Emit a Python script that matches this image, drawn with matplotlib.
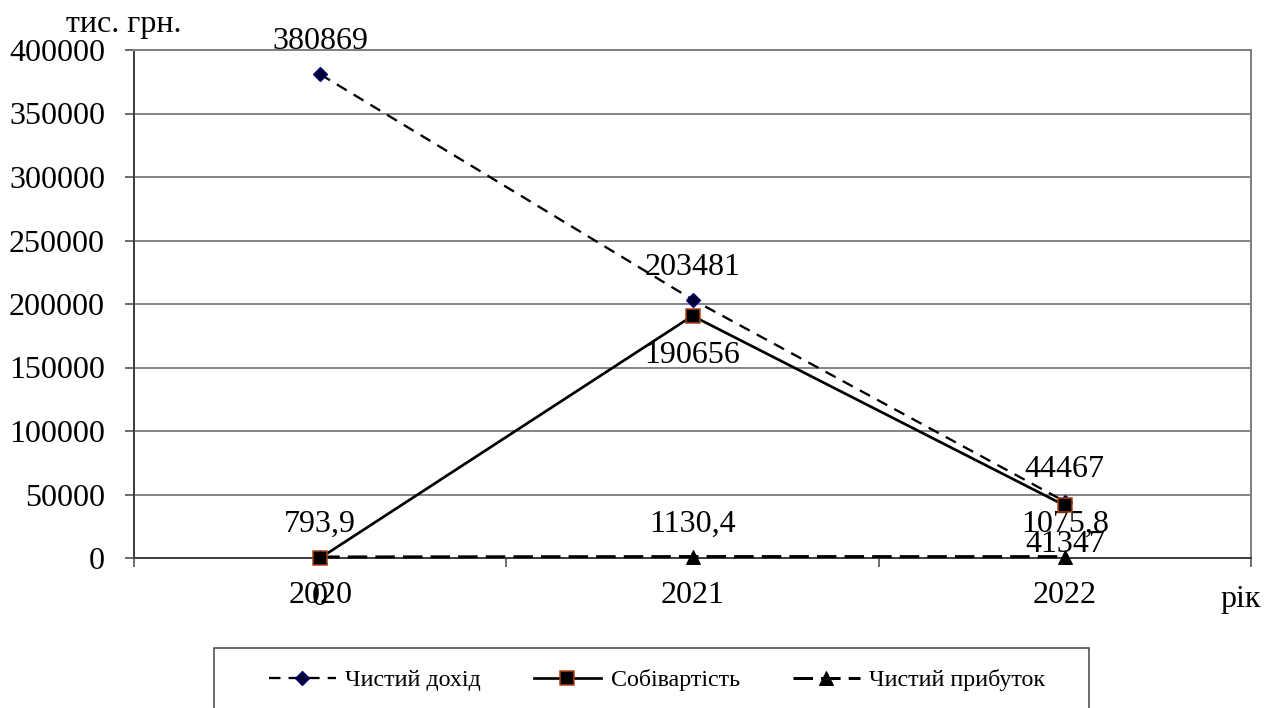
import matplotlib.pyplot as plt
from matplotlib.patches import Rectangle

plt.rcParams["font.family"] = ["Liberation Serif", "DejaVu Serif"]

years = ["2020", "2021", "2022"]
revenue = [380869, 203481, 44467]
cost = [0, 190656, 41347]
profit = [793.9, 1130.4, 1075.8]
series_names = ["Чистий дохід", "Собівартість", "Чистий прибуток"]
y_ticks = [0, 50000, 100000, 150000, 200000, 250000, 300000, 350000, 400000]

W, H = 1266, 708
FS = 32


def fx(px):
    return px / W


def fy(py):
    return 1 - py / H


def fmt(v):
    if float(v).is_integer():
        return str(int(v))
    return f"{v:.1f}".replace(".", ",")


# dpi 72 so that points and pixels are the same
fig = plt.figure(figsize=(W / 72, H / 72), dpi=72)
ax = fig.add_axes([fx(134), fy(558), fx(1251 - 134), (558 - 50) / H])

x = list(range(len(years)))

l_rev, = ax.plot(x, revenue, color="black", lw=2.3, dashes=(5, 3.5),
                 marker="D", ms=10.5, mfc="#000033", mec="#000080", mew=1.3,
                 zorder=3, clip_on=False)
l_prof, = ax.plot(x, profit, color="black", lw=3, dashes=(6.5, 2.7),
                  marker="^", ms=14, mfc="black", mec="black",
                  zorder=4, clip_on=False)
l_cost, = ax.plot(x, cost, color="black", lw=2.7,
                  marker="s", ms=13.5, mfc="black", mec="#b04010", mew=1.5,
                  zorder=5, clip_on=False)

# value labels
for xi, v in zip(x, revenue):
    ax.annotate(fmt(v), (xi, v), xytext=(0, 25), textcoords="offset points",
                ha="center", va="baseline", fontsize=FS)
for xi, v in zip(x, cost):
    ax.annotate(fmt(v), (xi, v), xytext=(0, -47), textcoords="offset points",
                ha="center", va="baseline", fontsize=FS)
for xi, v in zip(x, profit):
    ax.annotate(fmt(v), (xi, v), xytext=(0, 25), textcoords="offset points",
                ha="center", va="baseline", fontsize=FS)

ax.set_xlim(-0.5, len(years) - 0.5)
ax.set_ylim(0, 400000)
ax.set_yticks(y_ticks)
ax.set_yticklabels([str(t) for t in y_ticks])
ax.set_xticks(x)
ax.set_xticklabels(years)
ax.set_xticks([i - 0.5 for i in range(len(years) + 1)], minor=True)

ax.tick_params(axis="y", direction="out", length=9, width=1.5,
               color="#404040", pad=20, labelsize=FS)
ax.tick_params(axis="x", which="major", length=0, pad=23, labelsize=FS)
ax.tick_params(axis="x", which="minor", direction="out", length=9,
               width=1.5, color="#404040")

ax.grid(axis="y", color="#606060", lw=1.5)
ax.set_axisbelow(True)

for side in ["left", "bottom"]:
    ax.spines[side].set_color("#404040")
    ax.spines[side].set_linewidth(2)
for side in ["top", "right"]:
    ax.spines[side].set_color("#808080")
    ax.spines[side].set_linewidth(2)

fig.text(fx(66), fy(32), "тис. грн.", fontsize=FS, ha="left", va="baseline")
fig.text(fx(1220), fy(607), "рік", fontsize=FS, ha="left", va="baseline")

# legend box runs off the bottom edge
fig.patches.append(Rectangle((fx(214), fy(720)), fx(1089 - 214), (720 - 648) / H,
                             transform=fig.transFigure, fill=False,
                             edgecolor="#404040", lw=1.5))
fig.legend([l_rev, l_cost, l_prof], series_names, loc="center",
           bbox_to_anchor=(fx(657), fy(680)), ncol=3, frameon=False,
           fontsize=24, handlelength=2.8, handletextpad=0.4,
           columnspacing=2.2)

fig.savefig("out.png", dpi=72)
